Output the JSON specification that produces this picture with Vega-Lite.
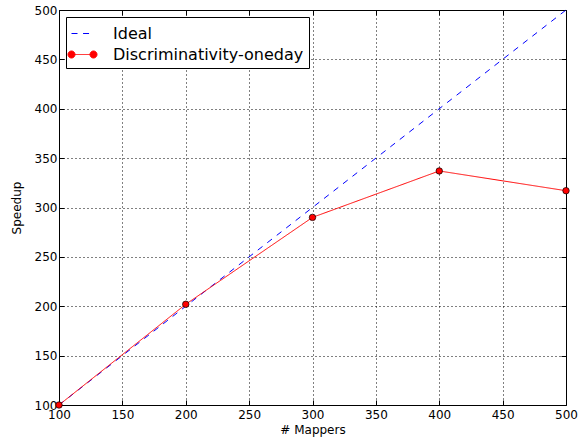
{
  "$schema": "https://vega.github.io/schema/vega-lite/v6.json",
  "width": 507,
  "height": 395,
  "autosize": {"type": "none"},
  "padding": {"left": 59, "top": 10, "right": 13, "bottom": 33},
  "background": "white",
  "config": {
    "font": "DejaVu Sans",
    "view": {"stroke": "black", "strokeWidth": 1},
    "axis": {
      "domain": false,
      "gridColor": "black",
      "gridDash": [1, 3],
      "gridOpacity": 1,
      "gridWidth": 1,
      "tickColor": "black",
      "tickSize": -5,
      "tickWidth": 1,
      "labelFont": "DejaVu Sans",
      "labelFontSize": 12,
      "labelColor": "black",
      "titleFont": "DejaVu Sans",
      "titleFontSize": 12,
      "titleFontWeight": "normal",
      "titleColor": "black",
      "labelFlush": false,
      "labelOverlap": false
    }
  },
  "datasets": {
    "lines": [
      {"series": "Ideal", "mappers": 100, "speedup": 100},
      {"series": "Ideal", "mappers": 500, "speedup": 500},
      {"series": "Discriminativity-oneday", "mappers": 100, "speedup": 100},
      {"series": "Discriminativity-oneday", "mappers": 200, "speedup": 202},
      {"series": "Discriminativity-oneday", "mappers": 300, "speedup": 290},
      {"series": "Discriminativity-oneday", "mappers": 400, "speedup": 337},
      {"series": "Discriminativity-oneday", "mappers": 500, "speedup": 317}
    ]
  },
  "layer": [
    {
      "data": {"name": "lines"},
      "mark": {"type": "line", "strokeWidth": 1, "clip": false},
      "encoding": {
        "x": {
          "field": "mappers", "type": "quantitative",
          "scale": {"domain": [100, 500], "nice": false, "zero": false},
          "axis": {"title": "# Mappers", "values": [100,150,200,250,300,350,400,450,500], "labelPadding": 9, "titlePadding": 4, "grid": true}
        },
        "y": {
          "field": "speedup", "type": "quantitative",
          "scale": {"domain": [100, 500], "nice": false, "zero": false},
          "axis": {"title": "Speedup", "values": [100,150,200,250,300,350,400,450,500], "labelPadding": 7, "titlePadding": 11, "grid": true}
        },
        "color": {
          "field": "series", "type": "nominal",
          "scale": {"domain": ["Ideal", "Discriminativity-oneday"], "range": ["#0000ff", "#ff0000"]},
          "legend": {
            "title": null,
            "orient": "none",
            "legendX": 7,
            "legendY": 7,
            "labelFont": "DejaVu Sans",
            "labelFontSize": 16,
            "labelColor": "black",
            "labelLimit": 0,
            "symbolSize": 484,
            "symbolStrokeWidth": 1,
            "rowPadding": 1,
            "labelOffset": 19,
            "padding": 5,
            "strokeColor": "black",
            "fillColor": "white",
            "cornerRadius": 0,
            "encode": {
              "symbols": {
                "update": {
                  "shape": {"signal": "datum.value === 'Ideal' ? 'M-1,0H-0.45M0.05,0H0.6' : 'M-1,0H1M-0.68,0A0.32,0.32,0,1,1,-1.32,0A0.32,0.32,0,1,1,-0.68,0ZM1.32,0A0.32,0.32,0,1,1,0.68,0A0.32,0.32,0,1,1,1.32,0Z'"},
                  "fill": {"signal": "datum.value === 'Ideal' ? 'transparent' : '#ff0000'"},
                  "strokeDash": {"value": [1, 0]}
                }
              }
            }
          }
        },
        "strokeDash": {
          "field": "series", "type": "nominal",
          "scale": {"domain": ["Ideal", "Discriminativity-oneday"], "range": [[6, 6], [1, 0]]},
          "legend": null
        }
      }
    },
    {
      "data": {"name": "lines"},
      "transform": [{"filter": "datum.series === 'Discriminativity-oneday'"}],
      "mark": {"type": "point", "filled": true, "fill": "#ff0000", "stroke": "black", "strokeWidth": 0.7, "size": 42, "opacity": 1, "clip": false},
      "encoding": {
        "x": {"field": "mappers", "type": "quantitative",
          "axis": {"orient": "top", "labels": false, "title": null, "grid": false, "values": [100,150,200,250,300,350,400,450,500]}},
        "y": {"field": "speedup", "type": "quantitative",
          "axis": {"orient": "right", "labels": false, "title": null, "grid": false, "values": [100,150,200,250,300,350,400,450,500]}}
      }
    }
  ],
  "resolve": {"axis": {"x": "independent", "y": "independent"}}
}
